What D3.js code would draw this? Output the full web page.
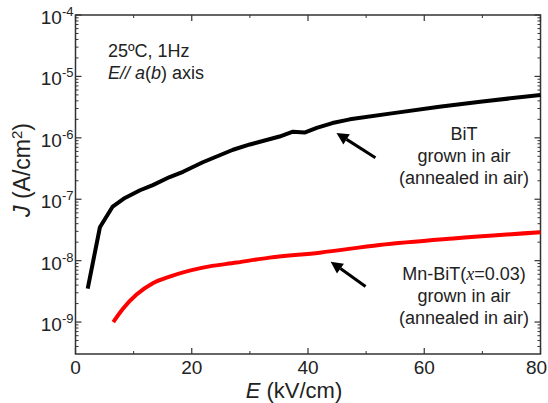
<!DOCTYPE html>
<html><head><meta charset="utf-8">
<script src="https://cdn.jsdelivr.net/npm/d3@7"></script>
<style>
html,body{margin:0;padding:0;background:#fff;}
svg{display:block;font-family:Arial,"Liberation Sans",sans-serif;}
</style></head>
<body><svg id="c" width="548" height="403"></svg>
<script>
// ---- data ----
const bitE = [2.1, 4.2, 6.4, 8.5, 11.1, 13.3, 16.2, 18.5, 21.9, 27.1, 30, 35.1, 37.4, 39.4, 41.5, 44.2, 47.2, 55, 62.6, 70, 80];
const bitJ = [3.5e-9, 3.5e-8, 7.6e-8, 1.05e-7, 1.4e-7, 1.7e-7, 2.3e-7, 2.8e-7, 4.0e-7, 6.4e-7, 7.8e-7, 1.05e-6, 1.26e-6, 1.22e-6, 1.45e-6, 1.74e-6, 2.0e-6, 2.55e-6, 3.2e-6, 3.9e-6, 5.0e-6];
const mnE = [6.5, 8.2, 10.5, 13.3, 16.2, 21.9, 27.7, 33.4, 42, 52.3, 65, 80];
const mnJ = [1.0e-9, 1.66e-9, 2.8e-9, 4.3e-9, 5.5e-9, 7.7e-9, 9.3e-9, 1.12e-8, 1.35e-8, 1.8e-8, 2.3e-8, 2.9e-8];
const xTicks = [0, 20, 40, 60, 80];
const xMinor = [10, 30, 50, 70];
const yExps = [-9, -8, -7, -6, -5, -4];

const svg = d3.select("#c");
const L = 75.5, R = 540.5, T = 15, B = 354;
const x = d3.scaleLinear().domain([0, 80]).range([L, R]);
const y = d3.scaleLog().domain([Math.pow(10, -9.52), 1e-4]).range([B, T]);
const axisCol = "#333";

// minor log ticks
const yMinor = [];
for (let e = -10; e < -4; e++) for (let m = 2; m <= 9; m++) {
  const v = m * Math.pow(10, e);
  if (v >= y.domain()[0] && v <= 1e-4) yMinor.push(v);
}
const g = svg.append("g");
[[L, 1], [R, -1]].forEach(([px, dir]) => {
  g.selectAll(null).data(yMinor).enter().append("line")
    .attr("x1", px).attr("x2", px + dir * 3)
    .attr("y1", d => y(d)).attr("y2", d => y(d))
    .attr("stroke", axisCol).attr("stroke-width", 1);
  g.selectAll(null).data(yExps).enter().append("line")
    .attr("x1", px).attr("x2", px + dir * 6)
    .attr("y1", d => y(Math.pow(10, d))).attr("y2", d => y(Math.pow(10, d)))
    .attr("stroke", axisCol).attr("stroke-width", 1.2);
});
[[B, -1], [T, 1]].forEach(([py, dir]) => {
  g.selectAll(null).data(xTicks).enter().append("line")
    .attr("x1", d => x(d)).attr("x2", d => x(d))
    .attr("y1", py).attr("y2", py + dir * 6)
    .attr("stroke", axisCol).attr("stroke-width", 1.2);
  g.selectAll(null).data(xMinor).enter().append("line")
    .attr("x1", d => x(d)).attr("x2", d => x(d))
    .attr("y1", py).attr("y2", py + dir * 3)
    .attr("stroke", axisCol).attr("stroke-width", 1);
});
g.append("rect").attr("x", L).attr("y", T).attr("width", R - L).attr("height", B - T)
  .attr("fill", "none").attr("stroke", axisCol).attr("stroke-width", 1.5);

// x tick labels
svg.selectAll(null).data(xTicks).enter().append("text")
  .attr("x", d => d === 80 ? x(d) - 4 : x(d)).attr("y", B + 20)
  .attr("text-anchor", "middle").attr("font-size", 19).attr("fill", "#222")
  .text(d => d);
// y tick labels
const yl = svg.selectAll(null).data(yExps).enter().append("text")
  .attr("x", L - 2).attr("y", d => y(Math.pow(10, d)) + 9)
  .attr("text-anchor", "end").attr("font-size", 19).attr("fill", "#222");
yl.append("tspan").text("10");
yl.append("tspan").attr("dy", -8).attr("font-size", 13).text(d => "-" + Math.abs(d));

// axis titles
const xt = svg.append("text").attr("x", 294).attr("y", 398)
  .attr("text-anchor", "middle").attr("font-size", 22).attr("fill", "#222");
xt.append("tspan").attr("font-style", "italic").text("E");
xt.append("tspan").text(" (kV/cm)");
const ytl = svg.append("text").attr("transform", "translate(30,170) rotate(-90)")
  .attr("text-anchor", "middle").attr("font-size", 23).attr("fill", "#222");
ytl.append("tspan").attr("font-style", "italic").text("J");
ytl.append("tspan").text(" (A/cm");
ytl.append("tspan").attr("dy", -8).attr("font-size", 15).text("2");
ytl.append("tspan").attr("dy", 8).text(")");

// curves
const line = d3.line().x(d => x(d[0])).y(d => y(d[1]));
svg.append("path").datum(bitE.map((e, i) => [e, bitJ[i]]))
  .attr("d", line.curve(d3.curveLinear)).attr("fill", "none")
  .attr("stroke", "#000").attr("stroke-width", 4).attr("stroke-linejoin", "round");
svg.append("path").datum(mnE.map((e, i) => [e, mnJ[i]]))
  .attr("d", line.curve(d3.curveMonotoneX)).attr("fill", "none")
  .attr("stroke", "#ff0000").attr("stroke-width", 4).attr("stroke-linejoin", "round");

// annotations
const ann = svg.append("g").attr("font-size", 18).attr("fill", "#222");
ann.append("text").attr("x", 108).attr("y", 57).text("25ºC, 1Hz");
const t2 = ann.append("text").attr("x", 108).attr("y", 79);
t2.append("tspan").attr("font-style", "italic").text("E//");
t2.append("tspan").text(" ");
t2.append("tspan").attr("font-style", "italic").text("a");
t2.append("tspan").text("(");
t2.append("tspan").attr("font-style", "italic").text("b");
t2.append("tspan").text(") axis");

function block(lines, cx, y0) {
  lines.forEach((ln, i) => {
    const t = ann.append("text").attr("x", cx).attr("y", y0 + i * 22).attr("text-anchor", "middle");
    if (Array.isArray(ln)) ln.forEach(p => t.append("tspan").attr("font-style", p[1] ? "italic" : null)
      .attr("font-family", p[1] ? "'Liberation Serif','Times New Roman',serif" : null).text(p[0]));
    else t.text(ln);
  });
}
block(["BiT", "grown in air", "(annealed in air)"], 464, 140);
block([[["Mn-BiT(", 0], ["x", 1], ["=0.03)", 0]], "grown in air", "(annealed in air)"], 464, 280);

// arrows (data space)
function arrow(e0, j0, e1, j1) {
  const x0 = x(e0), y0 = y(j0), x1 = x(e1), y1 = y(j1);
  const a = Math.atan2(y1 - y0, x1 - x0), hl = 12, hw = 6;
  const bx = x1 - hl * Math.cos(a), by = y1 - hl * Math.sin(a);
  svg.append("line").attr("x1", x0).attr("y1", y0).attr("x2", bx).attr("y2", by)
    .attr("stroke", "#000").attr("stroke-width", 3);
  svg.append("path").attr("d", `M${x1},${y1}L${bx + hw * Math.sin(a)},${by - hw * Math.cos(a)}L${bx - hw * Math.sin(a)},${by + hw * Math.cos(a)}Z`)
    .attr("fill", "#000");
}
arrow(51.6, Math.pow(10, -6.325), 44.9, Math.pow(10, -5.92));
arrow(49.9, Math.pow(10, -8.42), 43.9, Math.pow(10, -8.016));
</script></body></html>
